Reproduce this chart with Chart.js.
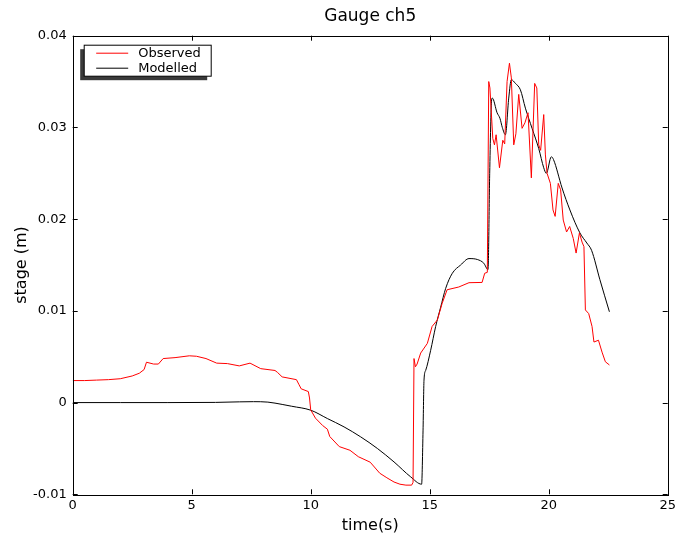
<!doctype html>
<html><head><meta charset="utf-8">
<title>Gauge ch5</title>
<script src="https://cdn.jsdelivr.net/npm/chart.js"></script>
<style>
  html, body { margin: 0; padding: 0; background: #fff; }
  #wrap { width: 680px; height: 541px; }
</style>
</head><body>
<div id="wrap"><canvas id="gauge"></canvas></div>
<script>
// observed gauge record (time in s, stage in m)
const obsTime = [0, 0.5, 1, 1.5, 2, 2.5, 2.8, 3.0, 3.1, 3.4, 3.6, 3.8, 4.3, 4.9, 5.2, 5.6, 6.05, 6.5, 7.0, 7.45,
  7.9, 8.5, 8.6, 8.8, 9.4, 9.5, 9.6, 9.9, 9.95, 10.0, 10.2, 10.5, 10.7, 10.8, 11.2, 11.65, 12.0, 12.5, 12.9, 13.2,
  13.5, 13.75, 14.0, 14.24, 14.3, 14.34, 14.4, 14.47, 14.62, 14.9, 15.1, 15.32, 15.52, 15.73, 16.22, 16.65, 17.2, 17.31, 17.42, 17.48,
  17.53, 17.65, 17.72, 17.79, 17.93, 18.07, 18.15, 18.25, 18.35, 18.43, 18.53, 18.62, 18.74, 18.88, 19.0, 19.13, 19.27, 19.41, 19.5, 19.58,
  19.66, 19.79, 19.86, 19.93, 20.07, 20.18, 20.27, 20.4, 20.5, 20.61, 20.75, 20.88, 21.03, 21.15, 21.29, 21.4, 21.48, 21.54, 21.68, 21.82,
  21.9, 22.09, 22.24, 22.38, 22.55];
const obsStage = [0.0024, 0.0024, 0.00245, 0.0025, 0.0026, 0.0029, 0.0032, 0.0036, 0.0044, 0.0042, 0.0042, 0.0048, 0.0049, 0.0051, 0.00505, 0.0048, 0.0043, 0.00425, 0.0040, 0.0043,
  0.0037, 0.0035, 0.0033, 0.0028, 0.0025, 0.0020, 0.0015, 0.0012, 0.0005, -0.0008, -0.0017, -0.0025, -0.0029, -0.0037, -0.0048, -0.0052, -0.0059, -0.0065, -0.0077, -0.0082,
  -0.00866, -0.0089, -0.0090, -0.0090, -0.0087, 0.0048, 0.0039, 0.0042, 0.0054, 0.00645, 0.0083, 0.0090, 0.0108, 0.0123, 0.0126, 0.01307, 0.0131, 0.0141, 0.0142, 0.0350,
  0.0343, 0.0288, 0.0281, 0.0292, 0.0256, 0.0286, 0.0282, 0.0350, 0.0370, 0.0354, 0.0281, 0.0293, 0.0336, 0.0299, 0.0305, 0.0316, 0.0245, 0.0348, 0.0343, 0.0281,
  0.0275, 0.0314, 0.0270, 0.0250, 0.0239, 0.0210, 0.0203, 0.0239, 0.0232, 0.0199, 0.0186, 0.0192, 0.0179, 0.0163, 0.0185, 0.0175, 0.0170, 0.0101, 0.0097, 0.0083,
  0.0066, 0.0068, 0.0055, 0.00445, 0.0041];

// modelled stage
const modTime = [0, 2, 4, 6, 7, 7.6, 8.2, 8.8, 9.2, 10.0, 10.7, 11.4, 12.1, 12.8, 13.5, 14.2, 14.66, 14.72, 14.76, 14.83,
  15.04, 15.25, 15.46, 15.67, 15.95, 16.3, 16.65, 17.0, 17.27, 17.45, 17.52, 17.6, 17.63, 17.83, 17.95, 18.05, 18.18, 18.32, 18.43, 18.6,
  18.81, 19.02, 19.3, 19.58, 19.79, 19.9, 20.11, 20.2, 20.56, 20.89, 21.31, 21.6, 21.8, 22.15, 22.55];
const modStage = [0, 0, 0, 0.00002, 0.00008, 0.0001, 0.00005, -0.0002, -0.0004, -0.00083, -0.00174, -0.00265, -0.00374, -0.0050, -0.00647, -0.0081, -0.0089, -0.0030, 0.00245, 0.0035,
  0.0057, 0.0083, 0.0104, 0.01245, 0.0141, 0.0150, 0.0157, 0.0156, 0.0152, 0.0145, 0.0250, 0.0330, 0.0332, 0.0316, 0.0310, 0.0300, 0.0292, 0.0332, 0.0352, 0.0348,
  0.0341, 0.0321, 0.0299, 0.0277, 0.0256, 0.0250, 0.0268, 0.0265, 0.0234, 0.0210, 0.0185, 0.0174, 0.0166, 0.0134, 0.0099];

const seriesNames = ['Observed', 'Modelled'];
const seriesColors = ['#ff0000', '#000000'];
const xTicks = [0, 5, 10, 15, 20, 25];
const yTicks = [-0.01, 0, 0.01, 0.02, 0.03, 0.04];

const FONT = 'DejaVu Sans';

const toPoints = (xs, ys) => xs.map((x, i) => ({ x, y: ys[i] }));

// frame + inward ticks on all four sides, old matplotlib style
const framePlugin = {
  id: 'frame',
  afterDatasetsDraw(chart) {
    const { ctx, chartArea: a, scales } = chart;
    ctx.save();
    ctx.strokeStyle = '#000';
    ctx.lineWidth = 1;
    ctx.strokeRect(Math.round(a.left) + 0.5, Math.round(a.top) + 0.5,
      Math.round(a.right - a.left), Math.round(a.bottom - a.top));
    ctx.beginPath();
    scales.x.ticks.forEach(t => {
      const px = Math.round(scales.x.getPixelForValue(t.value)) + 0.5;
      ctx.moveTo(px, a.bottom); ctx.lineTo(px, a.bottom - 5);
      ctx.moveTo(px, a.top); ctx.lineTo(px, a.top + 5);
    });
    scales.y.ticks.forEach(t => {
      const py = Math.round(scales.y.getPixelForValue(t.value)) + 0.5;
      ctx.moveTo(a.left, py); ctx.lineTo(a.left + 5, py);
      ctx.moveTo(a.right, py); ctx.lineTo(a.right - 5, py);
    });
    ctx.stroke();
    ctx.restore();
  }
};

// boxed legend with drop shadow, top left of the axes
const legendPlugin = {
  id: 'boxLegend',
  afterDraw(chart) {
    const { ctx, chartArea: a } = chart;
    const x = a.left + 11.5, y = a.top + 9.5, w = 127, h = 31;
    ctx.save();
    ctx.fillStyle = '#3a3a3a';
    ctx.fillRect(x - 4, y + 4, w, h);
    ctx.fillStyle = '#fff';
    ctx.fillRect(x, y, w, h);
    ctx.strokeStyle = '#000';
    ctx.lineWidth = 1;
    ctx.strokeRect(x, y, w, h);
    ctx.font = '13px "' + FONT + '"';
    ctx.textBaseline = 'middle';
    seriesNames.forEach((name, i) => {
      const ly = y + 8 + i * 15;
      ctx.strokeStyle = seriesColors[i];
      ctx.beginPath();
      ctx.moveTo(x + 12, ly); ctx.lineTo(x + 44, ly);
      ctx.stroke();
      ctx.fillStyle = '#000';
      ctx.fillText(name, x + 54, ly);
    });
    ctx.restore();
  }
};

new Chart(document.getElementById('gauge'), {
  type: 'scatter',
  data: {
    datasets: [
      { label: seriesNames[0], data: toPoints(obsTime, obsStage), showLine: true,
        borderColor: seriesColors[0], borderWidth: 1, pointRadius: 0, tension: 0 },
      { label: seriesNames[1], data: toPoints(modTime, modStage), showLine: true,
        borderColor: seriesColors[1], borderWidth: 1, pointRadius: 0,
        cubicInterpolationMode: 'monotone' }
    ]
  },
  options: {
    responsive: true,
    maintainAspectRatio: false,
    animation: false,
    events: [],
    layout: { padding: { left: 0, right: 11, top: 0, bottom: 0 } },
    plugins: {
      legend: { display: false },
      tooltip: { enabled: false },
      title: {
        display: true, text: 'Gauge ch5', fullSize: false, color: '#000',
        font: { family: FONT, size: 17, weight: 'normal' },
        padding: { top: 6, bottom: 9.3 }
      }
    },
    scales: {
      x: {
        type: 'linear', min: 0, max: 25,
        afterBuildTicks: s => { s.ticks = xTicks.map(v => ({ value: v })); },
        afterFit: s => { s.height = 46.7; },
        grid: { drawOnChartArea: false, drawTicks: false },
        border: { display: false },
        ticks: { color: '#000', padding: 4, font: { family: FONT, size: 13 }, maxRotation: 0 },
        title: { display: true, text: 'time(s)', color: '#000',
          font: { family: FONT, size: 16 }, padding: { top: 0, bottom: 6 } }
      },
      y: {
        type: 'linear', min: -0.01, max: 0.04,
        afterBuildTicks: s => { s.ticks = yTicks.map(v => ({ value: v })); },
        afterFit: s => { s.width = 72.7; },
        grid: { drawOnChartArea: false, drawTicks: false },
        border: { display: false },
        ticks: { color: '#000', padding: 6, font: { family: FONT, size: 13 },
          callback: v => (Math.abs(v) < 1e-9 ? '0' : v.toFixed(2)) },
        title: { display: true, text: 'stage (m)', color: '#000',
          font: { family: FONT, size: 16 }, padding: { top: 12, bottom: 0 } }
      }
    }
  },
  plugins: [framePlugin, legendPlugin]
});
</script>
</body></html>
